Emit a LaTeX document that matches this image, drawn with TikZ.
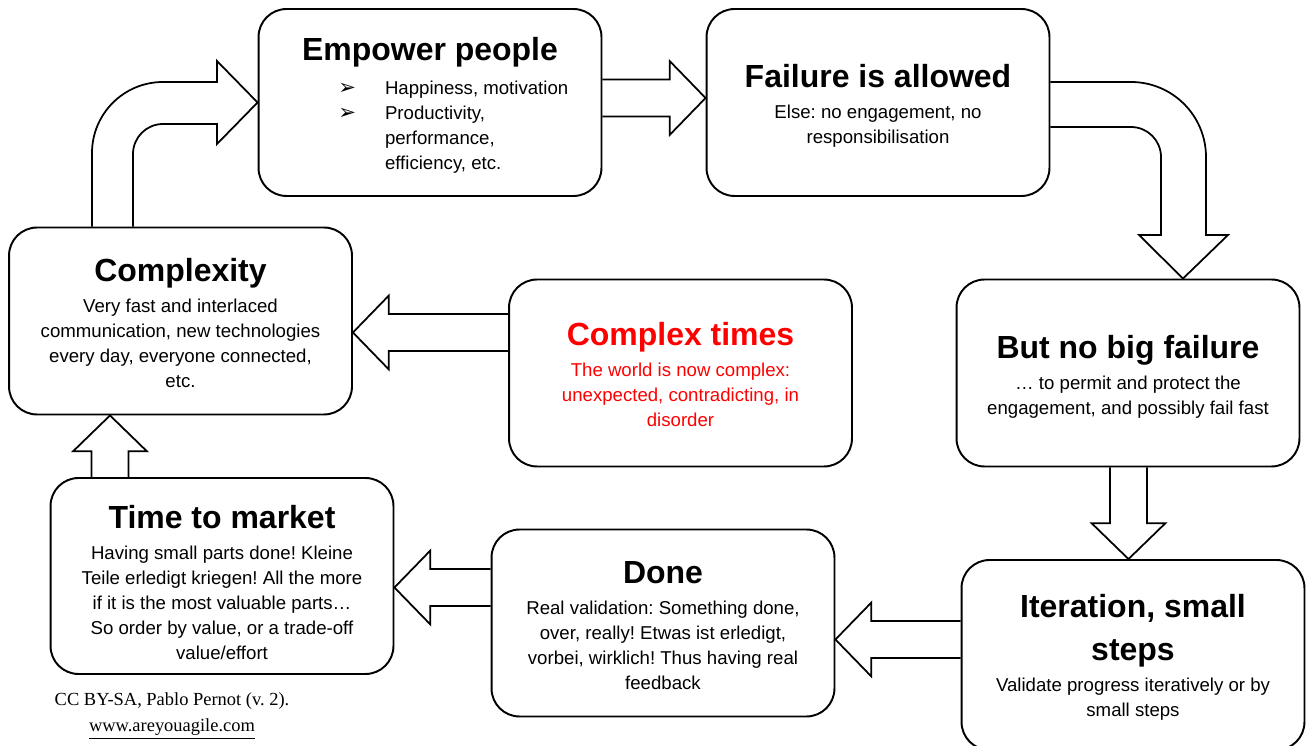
\documentclass[tikz,border=0pt]{standalone}
\usepackage{fontspec}
\setmainfont{Liberation Sans}
\newfontfamily\creditfont{Liberation Serif}
\newfontfamily\dingfont{DejaVu Sans}
\usetikzlibrary{calc}
\frenchspacing

\definecolor{alarm}{HTML}{FF0000}

% box titles; the optional strut pushes the text block down a little
\newcommand{\heading}[2][13pt]{{\fontsize{18.2}{21}\selectfont\bfseries\rule{0pt}{#1}#2}}
% bullet of the list in the first box
\newcommand{\pointer}{\makebox[26.6pt][l]{\dingfont\fontsize{12}{12}\selectfont ➢}}

% straight block arrows, from base #1 to tip #2
\newcommand{\harrow}[2]{%
  \draw[arrow_style] let \p1=(#1), \p2=(#2), \n1={sign(\x2-\x1)} in
    (\x1,\y1+10.5pt) -- ({\x2-(\n1)*20.4pt},\y1+10.5pt) -- ({\x2-(\n1)*20.4pt},\y1+21pt)
    -- (\x2,\y1) -- ({\x2-(\n1)*20.4pt},\y1-21pt) -- ({\x2-(\n1)*20.4pt},\y1-10.5pt)
    -- (\x1,\y1-10.5pt);}
\newcommand{\varrow}[2]{%
  \draw[arrow_style] let \p1=(#1), \p2=(#2), \n1={sign(\y2-\y1)} in
    (\x1-10.5pt,\y1) -- (\x1-10.5pt,{\y2-(\n1)*20.4pt}) -- (\x1-21pt,{\y2-(\n1)*20.4pt})
    -- (\x1,\y2) -- (\x1+21pt,{\y2-(\n1)*20.4pt}) -- (\x1+10.5pt,{\y2-(\n1)*20.4pt})
    -- (\x1+10.5pt,\y1);}

\begin{document}
\begin{tikzpicture}[x=0.02cm, y=-0.02cm]
\tikzstyle{box_style} = [draw, line width=1.1pt, rounded corners=0.56cm, fill=white,
  minimum width=6.86cm, minimum height=3.74cm, align=center, inner sep=0pt,
  font=\fontsize{10.6}{14.2}\selectfont]
\tikzstyle{arrow_style} = [black, line width=1pt, line join=miter]
\tikzstyle{credit_style} = [align=center, inner sep=0pt, font=\creditfont\fontsize{10.5}{14.7}\selectfont]
    \useasboundingbox (0,0) rectangle (1306,746);

    % the eight boxes
    \node[box_style] (emp) at (430,102.5) {\heading[18.6pt]{Empower people}\\[5.5pt]
      \hspace*{26.5pt}\begin{tabular}[t]{@{}l@{}l@{}}
        \pointer & Happiness, motivation\\
        \pointer & Productivity,\\
                 & performance,\\
                 & efficiency, etc.
      \end{tabular}};
    \node[box_style] (fail) at (878,102.5) {\heading[17pt]{Failure is allowed}\\[3.5pt]
      Else: no engagement, no\\ responsibilisation};
    \node[box_style] (cplx) at (180.5,321) {\heading[15.6pt]{Complexity}\\[3.5pt]
      Very fast and interlaced\\ communication, new technologies\\
      every day, everyone connected,\\ etc.};
    \node[box_style, text=alarm] (times) at (680.5,373) {\heading[14.7pt]{Complex times}\\[3.5pt]
      The world is now complex:\\ unexpected, contradicting, in\\ disorder};
    \node[box_style] (nobig) at (1128,373) {\heading[17.2pt]{But no big failure}\\[3.5pt]
      … to permit and protect the\\ engagement, and possibly fail fast};
    \node[box_style, minimum height=3.92cm] (ttm) at (222,576) {\heading[20.4pt]{Time to market}\\[3.5pt]
      Having small parts done! Kleine\\ Teile erledigt kriegen! All the more\\
      if it is the most valuable parts…\\ So order by value, or a trade-off\\ value/effort};
    \node[box_style] (done) at (663,623) {\heading[15.6pt]{Done}\\[3.5pt]
      Real validation: Something done,\\ over, really! Etwas ist erledigt,\\
      vorbei, wirklich! Thus having real\\ feedback};
    \node[box_style, minimum height=3.8cm] (iter) at (1133,655) {\heading[15.5pt]{Iteration, small}\\[8pt]
      \heading{steps}\\[3.2pt]
      Validate progress iteratively or by\\ small steps};

    % straight arrows
    \harrow{emp.east |- 0,98}{fail.west |- 0,98}
    \harrow{times.west |- 0,332.5}{cplx.east |- 0,332.5}
    \harrow{done.west |- 0,587.5}{ttm.east |- 0,587.5}
    \harrow{iter.west |- 0,639.5}{done.east |- 0,639.5}
    \varrow{ttm.north -| 110,0}{cplx.south -| 110,0}
    \varrow{nobig.south -| 1128.5,0}{iter.north -| 1128.5,0}

    % bent arrows
    \draw[arrow_style] (92,0 |- cplx.north) -- (92,153) arc[start angle=180, end angle=270, radius=71]
      -- (217,82) -- (217,61) -- (emp.west) -- (217,144) -- (217,124) -- (163,124)
      arc[start angle=270, end angle=180, radius=30] -- (133,0 |- cplx.north);
    \draw[arrow_style] (fail.east |- 0,82) -- (1131,82) arc[start angle=270, end angle=360, radius=75]
      -- (1206,235) -- (1228,235) -- (1183,0 |- nobig.north) -- (1139,235) -- (1161,235)
      -- (1161,157) arc[start angle=0, end angle=-90, radius=30] -- (fail.east |- 0,127);

    \node[credit_style] (credit) at (172,716) {CC BY-SA, Pablo Pernot (v. 2).\\
      \underline{www.areyouagile.com}};
\end{tikzpicture}
\end{document}
